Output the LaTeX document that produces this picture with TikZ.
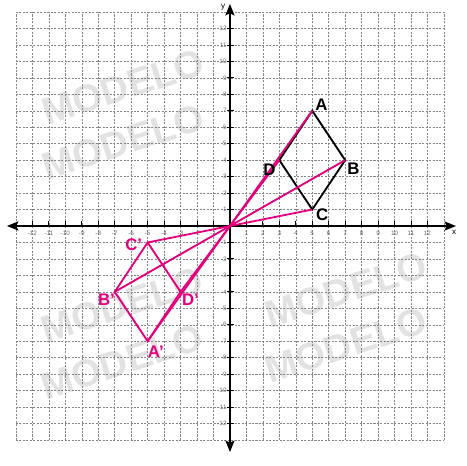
\documentclass[tikz,border=0pt]{standalone}
\usepackage{fontspec}
\setmainfont{Liberation Sans}
\usetikzlibrary{arrows.meta}
\definecolor{mag}{HTML}{E6007E}
\definecolor{wm}{HTML}{E2E2E2}
\definecolor{gridc}{HTML}{858585}
\definecolor{tickc}{HTML}{6A6A6A}
\begin{document}
\begin{tikzpicture}[x=1cm,y=1cm,
  wmark/.style={text=wm,font=\fontsize{66}{66}\selectfont\bfseries,rotate=18,inner sep=0pt},
  gridline/.style={draw=gridc,line width=0.9pt,dash pattern=on 3.5pt off 2.5pt},
  axisline/.style={draw=black,line width=2.2pt,{Stealth[length=20pt,width=16pt,inset=4pt]}-{Stealth[length=20pt,width=16pt,inset=4pt]}},
  tickmark/.style={draw=black,line width=1.5pt},
  ticklab/.style={text=tickc,font=\fontsize{11}{11}\selectfont,inner sep=0pt},
  axlab/.style={text=black,font=\fontsize{14}{14}\selectfont,inner sep=0pt},
  origquad/.style={draw=black,line width=3.2pt,line join=miter},
  imgline/.style={draw=mag,line width=3.2pt,line join=miter},
  blab/.style={text=black,font=\fontsize{29}{29}\selectfont\bfseries,inner sep=0pt},
  mlab/.style={text=mag,font=\fontsize{29}{29}\selectfont\bfseries,inner sep=0pt}
]
\useasboundingbox (-13.97,-14.58) rectangle (14.34,13.73);
% watermarks
\node[wmark] (w1) at (-6.5,8.44) {MODELO};
\node[wmark] (w2) at (-6.5,5.1) {MODELO};
\node[wmark] (w3) at (-6.56,-4.8) {MODELO};
\node[wmark] (w4) at (-6.56,-8.26) {MODELO};
\node[wmark] (w5) at (7.05,-3.89) {MODELO};
\node[wmark] (w6) at (7.05,-7.23) {MODELO};
% grid
\draw[gridline] (-13,-13) grid (13,13);
% axes
\coordinate (xl) at (-13.55,0);
\coordinate (xr) at (13.73,0);
\coordinate (yb) at (0,-13.73);
\coordinate (yt) at (0,13.49);
\draw[axisline] (xl) -- (xr);
\draw[axisline] (yb) -- (yt);
\node[axlab] (xlab) at (13.62,-0.38) {x};
\node[axlab] (ylab) at (-0.42,13.3) {y};
% ticks and labels
\foreach \i in {-12,...,-1,1,2,...,12}{
  \draw[tickmark] (\i,-0.08) -- (\i,0.3);
  \node[ticklab] (tx\i) at (\i,-0.47) {\i};
  \draw[tickmark] (-0.15,\i) -- (0.25,\i);
  \node[ticklab,anchor=east] (ty\i) at (-0.2,\i) {\i};
}
% points
\coordinate (O) at (0,0);
\coordinate (A) at (5,7);
\coordinate (B) at (7,4);
\coordinate (C) at (5,1);
\coordinate (D) at (3,4);
\coordinate (A') at (-5,-7);
\coordinate (B') at (-7,-4);
\coordinate (C') at (-5,-1);
\coordinate (D') at (-3,-4);
% original figure
\draw[origquad] (A) -- (B) -- (C) -- (D) -- cycle;
% image lines
\draw[imgline] (A) -- (A');
\draw[imgline] (B) -- (B');
\draw[imgline] (C) -- (C');
\draw[imgline] (D) -- (D');
\draw[imgline] (A') -- (B') -- (C') -- (D') -- cycle;
% labels
\node[blab] (lA) at (5.55,7.35) {A};
\node[blab] (lB) at (7.5,3.46) {B};
\node[blab] (lC) at (5.6,0.7) {C};
\node[blab] (lD) at (2.4,3.4) {D};
\node[mlab] (lA') at (-4.5,-7.65) {A’};
\node[mlab] (lB') at (-7.5,-4.5) {B’};
\node[mlab] (lC') at (-5.85,-1.15) {C’};
\node[mlab] (lD') at (-2.4,-4.5) {D’};
\end{tikzpicture}
\end{document}
